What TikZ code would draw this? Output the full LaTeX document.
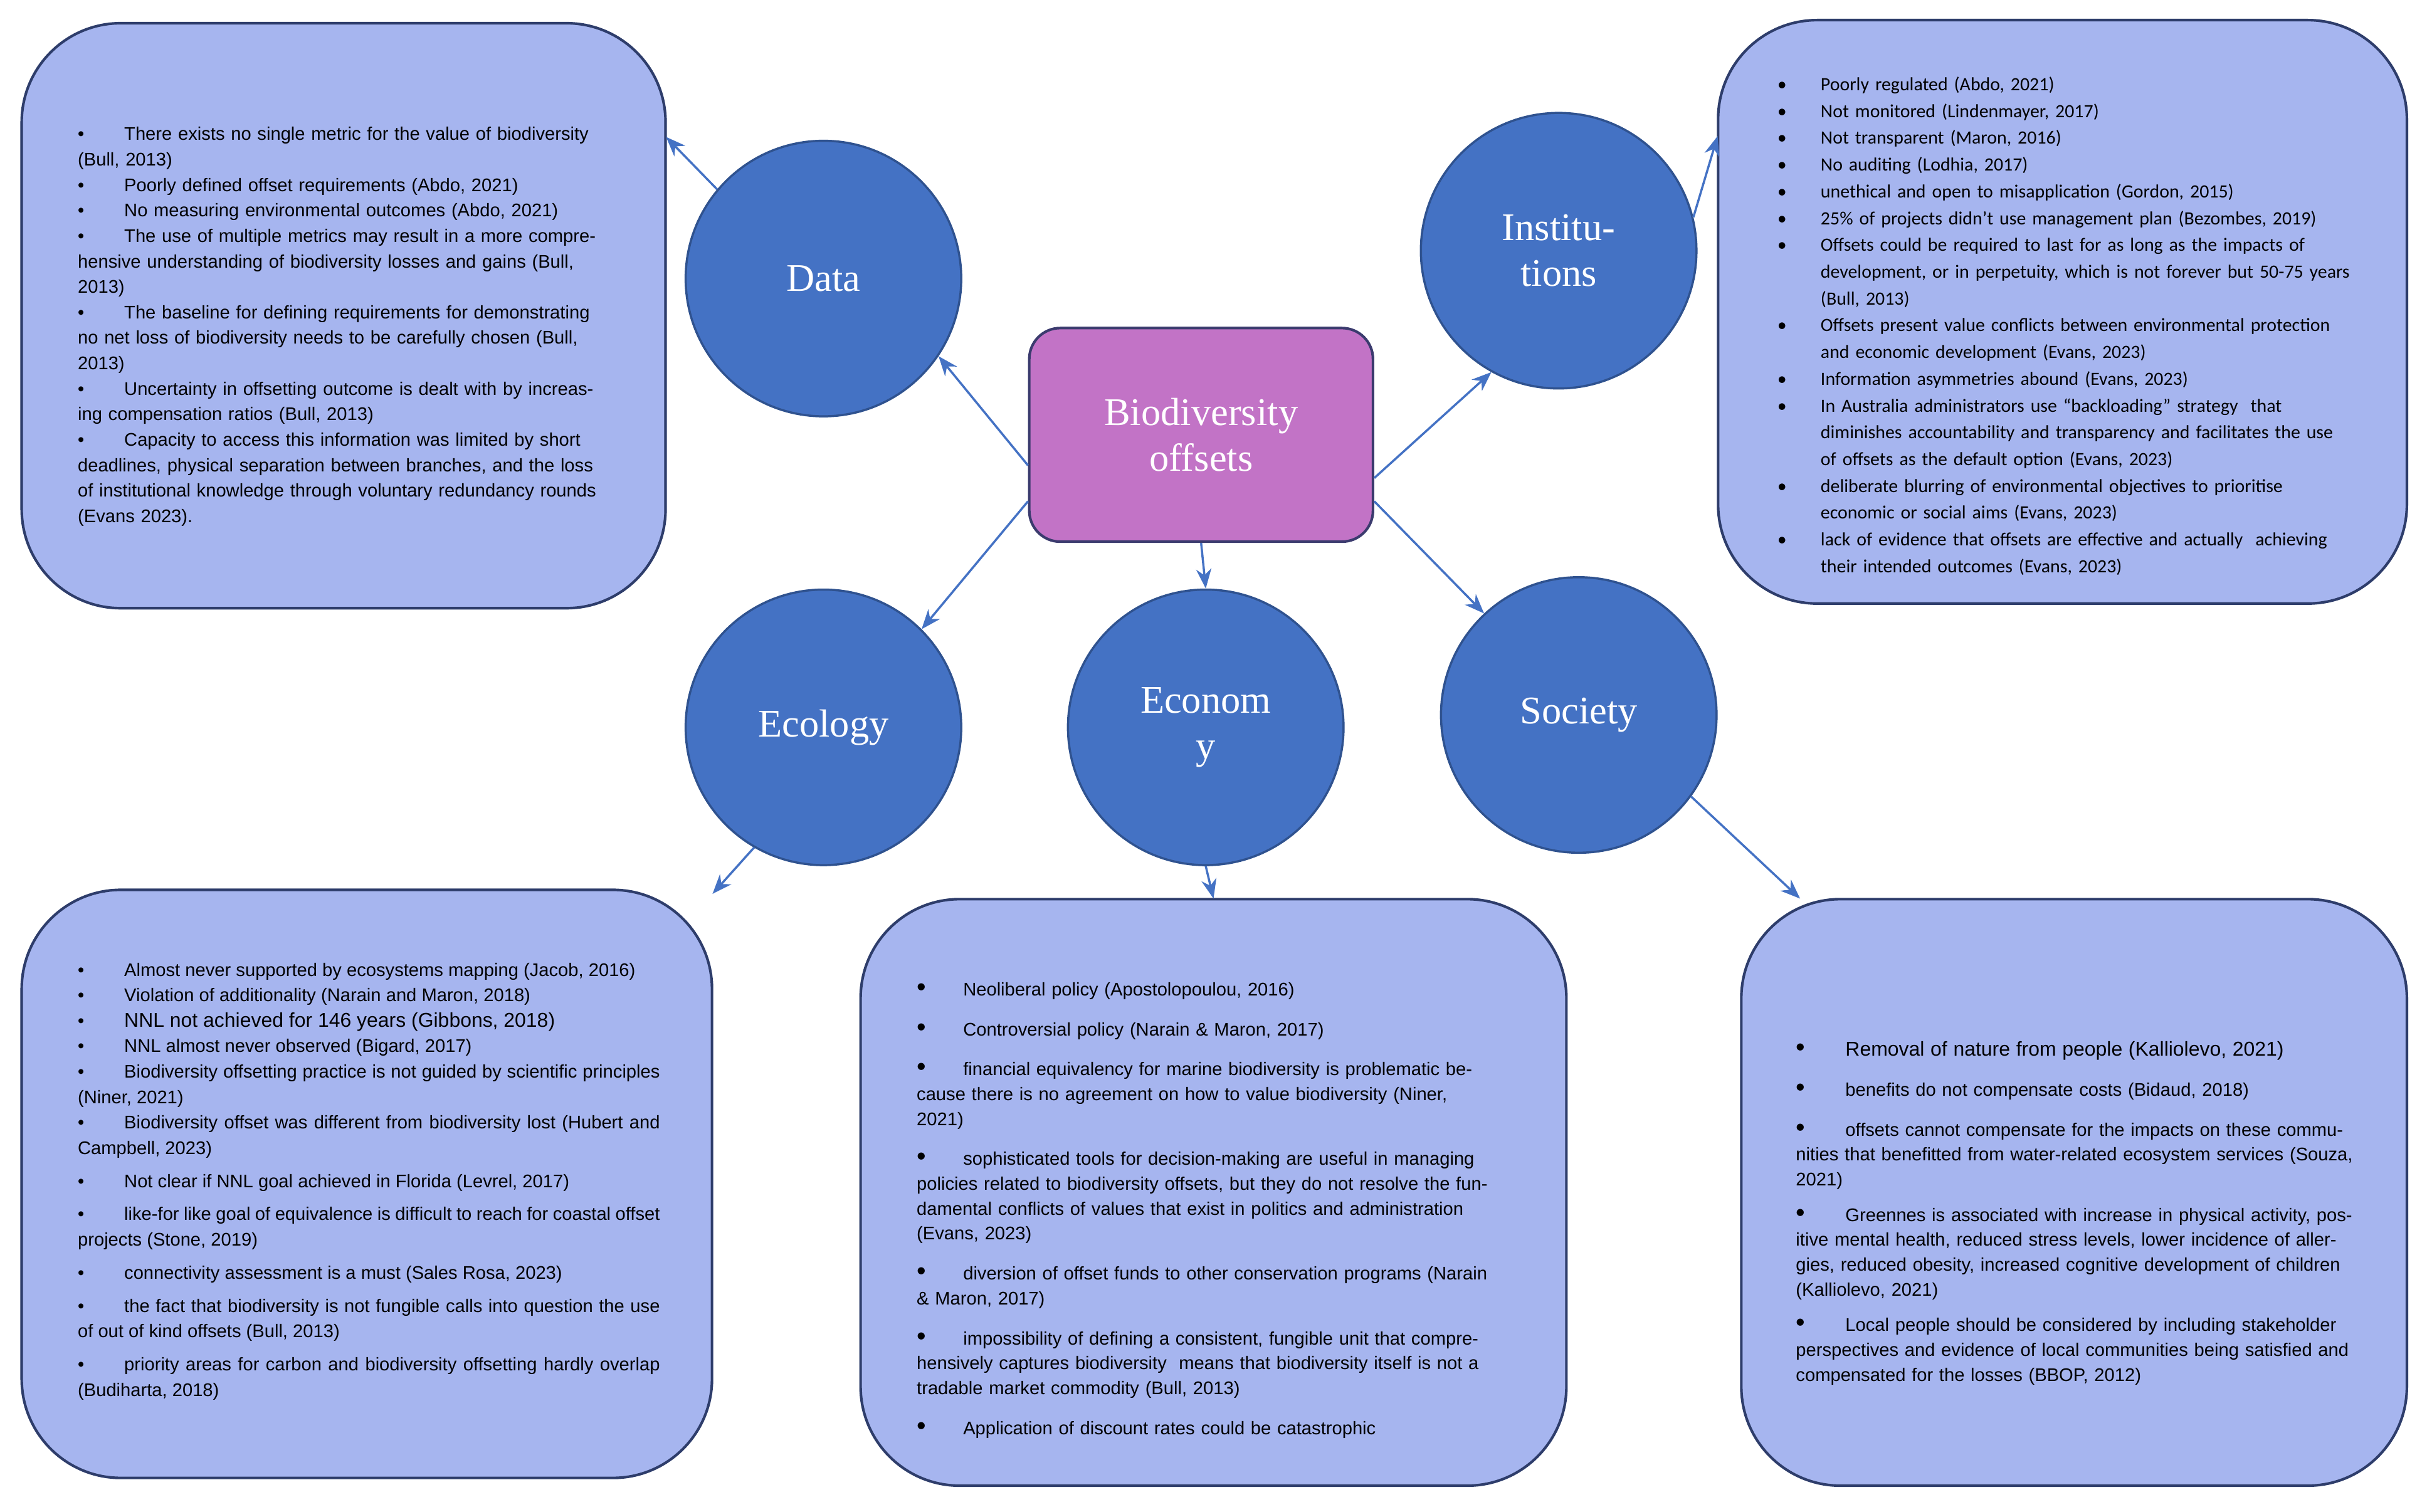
\documentclass[tikz,border=0pt]{standalone}
\usepackage{fontspec}
\setmainfont{Liberation Sans}
\newfontfamily\serifL{Liberation Serif}
\newfontfamily\carl{Carlito}
\usetikzlibrary{arrows.meta}
\definecolor{boxfill}{HTML}{A6B5EF}
\definecolor{boxline}{HTML}{2E3D6B}
\definecolor{circfill}{HTML}{4472C4}
\definecolor{circline}{HTML}{2F528F}
\definecolor{biofill}{HTML}{C273C6}
\definecolor{bioline}{HTML}{3B3B6E}
\newcommand{\bl}[1]{\par\noindent\makebox[#1]{\textbullet\hfill}}
\newcommand{\bL}[1]{\par\noindent\makebox[#1]{{\large\textbullet}\hfill}}
\newcommand{\ibul}{\makebox[0.7cm][l]{\textbullet}}
\begin{document}
\begin{tikzpicture}[x=0.025cm,y=-0.025cm,
  box/.style={draw=boxline,line width=1.2pt,fill=boxfill,rounded corners=1.6cm},
  circ/.style={circle,draw=circline,line width=1pt,fill=circfill,minimum size=4.45cm,inner sep=0pt,
    text=white,font=\serifL\fontsize{18}{21}\selectfont,align=center},
  txt/.style={anchor=north west,inner sep=0pt,align=left},
  arr/.style={draw=circfill,line width=1pt,-{Stealth[length=9pt,width=7pt]}}]
\useasboundingbox (0,0) rectangle (1568,977);
% boxes
\draw[box] (14,15) rectangle (430,393);
\draw[box] (1110,13) rectangle (1555,390);
\draw[box] (14,575) rectangle (460,955);
\draw[box] (556,581) rectangle (1012,960);
\draw[box] (1125,581) rectangle (1555,960);
\node[minimum width=10.4cm,minimum height=9.45cm,inner sep=0pt] (dbx) at (222,204) {};
\node[minimum width=11.125cm,minimum height=9.425cm,inner sep=0pt] (ibx) at (1332.5,201.5) {};
\node[minimum width=11.15cm,minimum height=9.5cm,inner sep=0pt] (ebx) at (237,765) {};
\node[minimum width=11.4cm,minimum height=9.475cm,inner sep=0pt] (ecbx) at (784,770.5) {};
\node[minimum width=10.75cm,minimum height=9.475cm,inner sep=0pt] (sbx) at (1340,770.5) {};
% center
\node[draw=bioline,line width=1.2pt,fill=biofill,rounded corners=0.5cm,minimum width=5.55cm,minimum height=3.45cm,
  text=white,font=\serifL\fontsize{18}{21}\selectfont,align=center] (bio) at (776,281) {Biodiversity\\offsets};
% circles
\node[circ] (data) at (532,180) {Data};
\node[circ] (inst) at (1007,162) {Institu-\\tions};
\node[circ] (eco) at (532,470) {Ecology};
\node[circ] (econ) at (779,470) {Econom\\y};
\node[circ] (soc) at (1020,462) {Society};
% arrows
\draw[arr] (bio.190) -- (data.-34);
\draw[arr] (data.140) -- (dbx.29);
\draw[arr] (bio.-14) -- (inst.241);
\draw[arr] (inst.14) -- (ibx.153);
\draw[arr] (bio.201) -- (eco.45);
\draw[arr] (eco.240) -- (ebx.40);
\draw[arr] (bio.south) -- (econ.north);
\draw[arr] (econ.south) -- (ecbx.north);
\draw[arr] (bio.-21) -- (soc.133);
\draw[arr] (soc.-36) -- (sbx.133);
% texts
\node[txt,text width=8.45cm,font=\fontsize{8.4}{11.7}\selectfont] (t1) at (50,74) {%
\bl{0.75cm}There exists no single metric for the value of biodiversity (Bull, 2013)
\bl{0.75cm}Poorly defined offset requirements (Abdo, 2021)
\bl{0.75cm}No measuring environmental outcomes (Abdo, 2021)
\bl{0.75cm}The use of multiple metrics may result in a more comprehensive understanding of biodiversity losses and gains (Bull, 2013)
\bl{0.75cm}The baseline for defining requirements for demonstrating no net loss of biodiversity needs to be carefully chosen (Bull, 2013)
\bl{0.75cm}Uncertainty in offsetting outcome is dealt with by increasing compensation ratios (Bull, 2013)
\bl{0.75cm}Capacity to access this information was limited by short deadlines, physical separation between branches, and the loss of institutional knowledge through voluntary redundancy rounds (Evans 2023).};
\node[txt,text width=9.3cm,font=\carl\fontsize{8.6}{12.3}\selectfont] (t2) at (1148,41) {%
\begin{list}{\ibul}{\setlength\leftmargin{0.7cm}\setlength\labelwidth{0.7cm}\setlength\labelsep{0cm}\setlength\itemsep{0pt}\setlength\parsep{0pt}\setlength\topsep{0pt}}
\item Poorly regulated (Abdo, 2021)
\item Not monitored (Lindenmayer, 2017)
\item Not transparent (Maron, 2016)
\item No auditing (Lodhia, 2017)
\item unethical and open to misapplication (Gordon, 2015)
\item 25\% of projects didn’t use management plan (Bezombes, 2019)
\item Offsets could be required to last for as long as the impacts of development, or in perpetuity, which is not forever but 50-75 years (Bull, 2013)
\item Offsets present value conflicts between environmental protection and economic development (Evans, 2023)
\item Information asymmetries abound (Evans, 2023)
\item In Australia administrators use “backloading” strategy\ \ that diminishes accountability and transparency and facilitates the use of offsets as the default option (Evans, 2023)
\item deliberate blurring of environmental objectives to prioritise economic or social aims (Evans, 2023)
\item lack of evidence that offsets are effective and actually\ \ achieving their intended outcomes (Evans, 2023)
\end{list}};
\node[txt,text width=9.4cm,font=\fontsize{8.4}{11.7}\selectfont,align=justify] (t3) at (50,614) {%
\bl{0.75cm}Almost never supported by ecosystems mapping (Jacob, 2016)
\bl{0.75cm}Violation of additionality (Narain and Maron, 2018)
\bl{0.75cm}{\fontsize{9.2}{11.7}\selectfont NNL not achieved for 146 years (Gibbons, 2018)}
\bl{0.75cm}NNL almost never observed (Bigard, 2017)
\bl{0.75cm}Biodiversity offsetting practice is not guided by scientific principles (Niner, 2021)
\bl{0.75cm}Biodiversity offset was different from biodiversity lost (Hubert and Campbell, 2023)
\par\vspace{3.5pt}\bl{0.75cm}Not clear if NNL goal achieved in Florida (Levrel, 2017)
\par\vspace{3.5pt}\bl{0.75cm}like-for like goal of equivalence is difficult to reach for coastal offset projects (Stone, 2019)
\par\vspace{3.5pt}\bl{0.75cm}connectivity assessment is a must (Sales Rosa, 2023)
\par\vspace{3.5pt}\bl{0.75cm}the fact that biodiversity is not fungible calls into question the use of out of kind offsets (Bull, 2013)
\par\vspace{3.5pt}\bl{0.75cm}priority areas for carbon and biodiversity offsetting hardly overlap (Budiharta, 2018)};
\node[txt,text width=9.25cm,font=\fontsize{8.4}{11.4}\selectfont] (t4) at (592,627) {%
\bL{0.75cm}Neoliberal policy (Apostolopoulou, 2016)
\par\vspace{7pt}\bL{0.75cm}Controversial policy (Narain \& Maron, 2017)
\par\vspace{7pt}\bL{0.75cm}financial equivalency for marine biodiversity is problematic because there is no agreement on how to value biodiversity (Niner, 2021)
\par\vspace{7pt}\bL{0.75cm}sophisticated tools for decision-making are useful in managing policies related to biodiversity offsets, but they do not resolve the fundamental conflicts of values that exist in politics and administration (Evans, 2023)
\par\vspace{7pt}\bL{0.75cm}diversion of offset funds to other conservation programs (Narain \& Maron, 2017)
\par\vspace{7pt}\bL{0.75cm}impossibility of defining a consistent, fungible unit that comprehensively captures biodiversity\ \ means that biodiversity itself is not a tradable market commodity (Bull, 2013)
\par\vspace{7pt}\bL{0.75cm}Application of discount rates could be catastrophic};
\node[txt,text width=9.1cm,font=\fontsize{8.4}{11.4}\selectfont] (t5) at (1160,666) {%
\bL{0.8cm}{\fontsize{9.2}{11.4}\selectfont Removal of nature from people (Kalliolevo, 2021)}
\par\vspace{7pt}\bL{0.8cm}benefits do not compensate costs (Bidaud, 2018)
\par\vspace{7pt}\bL{0.8cm}offsets cannot compensate for the impacts on these communities that benefitted from water-related ecosystem services (Souza, 2021)
\par\vspace{5pt}\bL{0.8cm}Greennes is associated with increase in physical activity, positive mental health, reduced stress levels, lower incidence of allergies, reduced obesity, increased cognitive development of children (Kalliolevo, 2021)
\par\vspace{5pt}\bL{0.8cm}Local people should be considered by including stakeholder perspectives and evidence of local communities being satisfied and compensated for the losses (BBOP, 2012)};
\end{tikzpicture}
\end{document}
